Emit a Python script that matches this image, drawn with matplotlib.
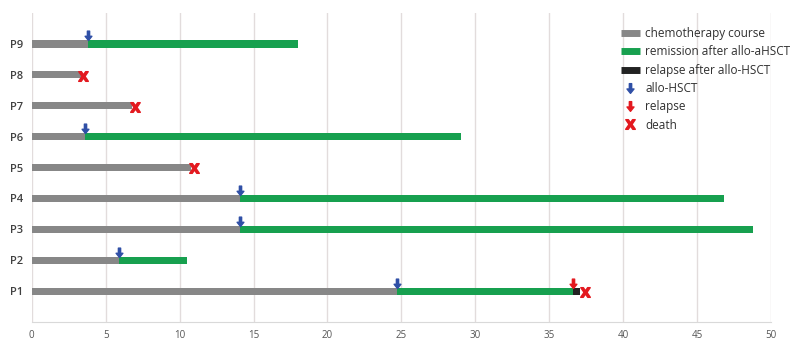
import numpy as np
import matplotlib.pyplot as plt
from matplotlib.path import Path
from matplotlib.lines import Line2D

plt.rcParams['font.family'] = ['Open Sans', 'DejaVu Sans']

# data (months)
patients = ['P1', 'P2', 'P3', 'P4', 'P5', 'P6', 'P7', 'P8', 'P9']
chemo_end = [24.7, 5.9, 14.1, 14.1, 10.8, 3.6, 6.8, 3.4, 3.8]
remission_end = [36.6, 10.5, 48.8, 46.8, np.nan, 29.0, np.nan, np.nan, 18.0]
relapse_end = [37.1, np.nan, np.nan, np.nan, np.nan, np.nan, np.nan, np.nan, np.nan]
hsct_time = [24.7, 5.9, 14.1, 14.1, np.nan, 3.6, np.nan, np.nan, 3.8]
relapse_time = [36.6, np.nan, np.nan, np.nan, np.nan, np.nan, np.nan, np.nan, np.nan]
death_time = [37.4, np.nan, np.nan, np.nan, 11.0, np.nan, 7.0, 3.45, np.nan]

grey = '#878787'
green = '#17a04f'
black = '#222222'
blue = '#2f4fa6'
red = '#e3191f'

# down arrow marker, tip at origin
arrow_pts = [(0, 0), (0.36, 0.45), (0.12, 0.45), (0.12, 1.0), (-0.12, 1.0),
             (-0.12, 0.45), (-0.36, 0.45), (0, 0)]
codes = [Path.MOVETO] + [Path.LINETO] * 6 + [Path.CLOSEPOLY]
arrow = Path(arrow_pts, codes)
# same arrow centred for the legend
arrow_c = Path([(px, py - 0.5) for px, py in arrow_pts], codes)

fig = plt.figure(figsize=(7.94, 3.55), dpi=100)
ax = fig.add_axes([0.040, 0.093, 0.931, 0.87])

y = np.arange(1, len(patients) + 1)
h = 0.23
chemo_end = np.array(chemo_end)
remission_end = np.array(remission_end)
relapse_end = np.array(relapse_end)

ax.barh(y, chemo_end, height=h, color=grey, zorder=3)
ax.barh(y, remission_end - chemo_end, left=chemo_end, height=h, color=green, zorder=3)
ax.barh(y, relapse_end - remission_end, left=remission_end, height=h, color=black, zorder=3)

ax.plot(hsct_time, y + h / 2, linestyle='none', marker=arrow, markersize=13.5,
        color=blue, zorder=4)
ax.plot(relapse_time, y + h / 2, linestyle='none', marker=arrow, markersize=13.5,
        color=red, zorder=4)
ax.plot(death_time, y - 0.03, linestyle='none', marker=r'$\mathbf{X}$', markersize=7,
        color=red, zorder=5)

ax.set_xlim(0, 50)
ax.set_ylim(0, 10)
ax.set_xticks(range(0, 51, 5))
ax.set_yticks(y)
ax.set_yticklabels(patients, fontweight='semibold', color='#404040', fontsize=8)
ax.tick_params(axis='x', labelsize=7, colors='#555555', length=0, pad=6)
ax.tick_params(axis='y', length=0, pad=6)
ax.grid(axis='x', color='#e2dcdc', linewidth=1, zorder=0)
for s in ['top', 'right', 'left']:
    ax.spines[s].set_visible(False)
ax.spines['bottom'].set_color('#d9d9d9')

handles = [
    Line2D([], [], color=grey, linewidth=5, solid_capstyle='butt'),
    Line2D([], [], color=green, linewidth=5, solid_capstyle='butt'),
    Line2D([], [], color=black, linewidth=5, solid_capstyle='butt'),
    Line2D([], [], linestyle='none', marker=arrow_c, markersize=7, color=blue),
    Line2D([], [], linestyle='none', marker=arrow_c, markersize=7, color=red),
    Line2D([], [], linestyle='none', marker=r'$\mathbf{X}$', markersize=7, color=red),
]
labels = ['chemotherapy course', 'remission after allo-aHSCT', 'relapse after allo-HSCT',
          'allo-HSCT', 'relapse', 'death']
leg = ax.legend(handles, labels, loc='upper left', bbox_to_anchor=(0.797, 0.955),
                frameon=False, fontsize=8.5, handlelength=1.6, handletextpad=0.45,
                labelspacing=0.45, borderaxespad=0, borderpad=0)
for t in leg.get_texts():
    t.set_color('#303030')

fig.savefig('out.png', dpi=100)
